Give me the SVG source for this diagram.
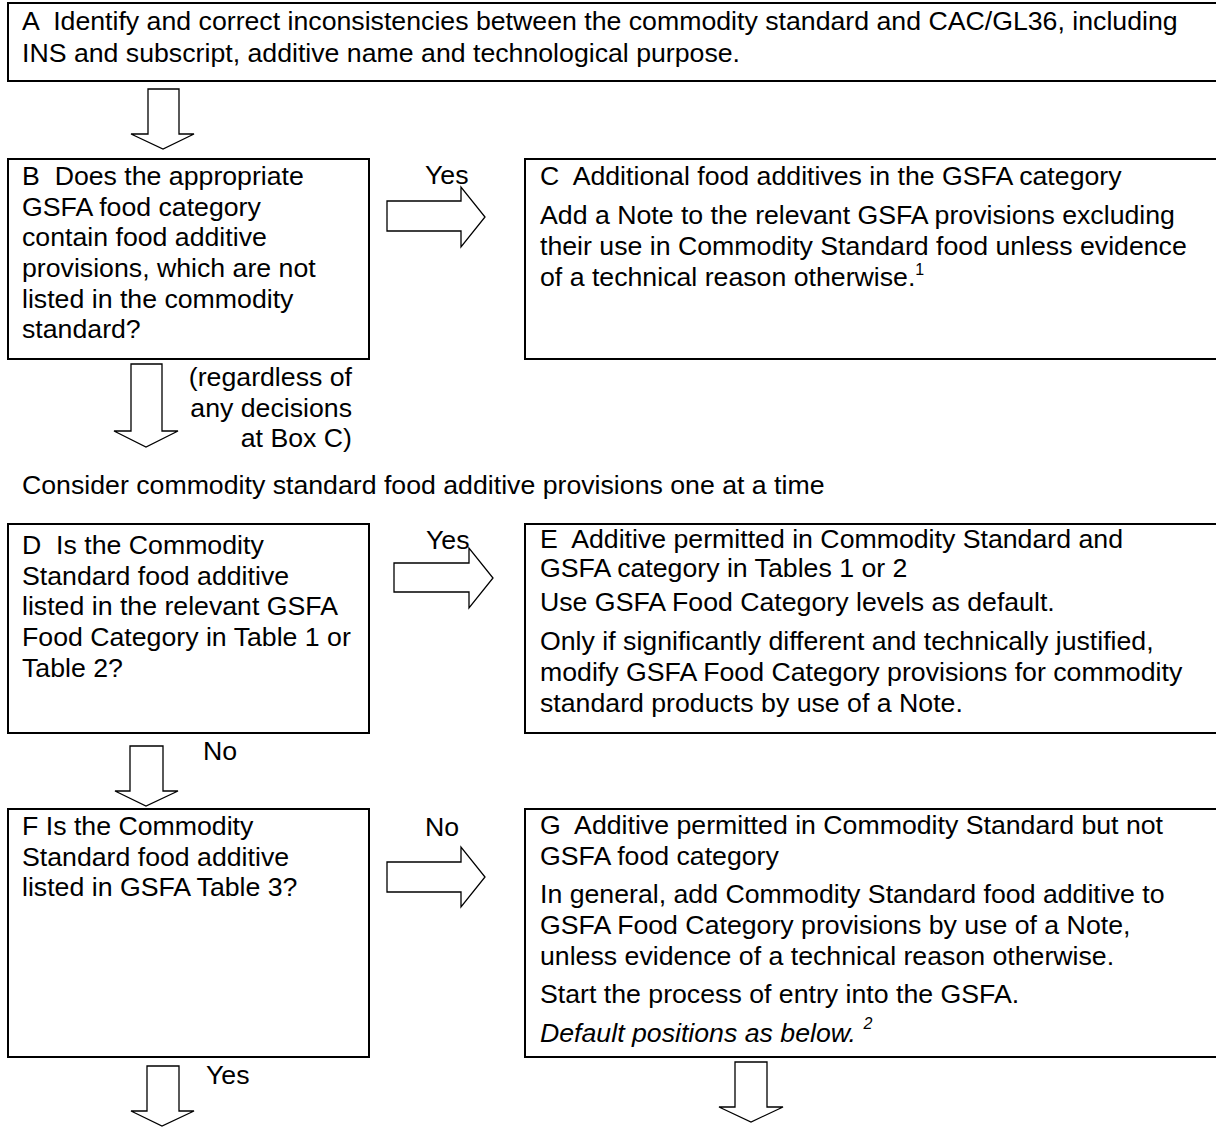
<svg xmlns="http://www.w3.org/2000/svg" width="1216" height="1131" viewBox="0 0 1216 1131">
<style>
text { font-family: "Liberation Sans", Arial, sans-serif; font-size: 26.7px; fill: #000; white-space: pre; }
.box { fill: #fff; stroke: #000; stroke-width: 2; }
.arr { fill: #fff; stroke: #000; stroke-width: 1.3; stroke-linejoin: miter; }
.sup { font-size: 16px; }
.it { font-style: italic; }
</style>
<rect width="1216" height="1131" fill="#fff"/>
<g id="nodeA">
<rect class="box" x="8" y="3" width="1230" height="78"/>
<text x="22" y="30">A  Identify and correct inconsistencies between the commodity standard and CAC/GL36, including</text>
<text x="22" y="62">INS and subscript, additive name and technological purpose.</text>
</g>
<g id="nodeB">
<rect class="box" x="8" y="159" width="361" height="200"/>
<text x="22" y="185">B  Does the appropriate</text>
<text x="22" y="216">GSFA food category</text>
<text x="22" y="246">contain food additive</text>
<text x="22" y="277">provisions, which are not</text>
<text x="22" y="308">listed in the commodity</text>
<text x="22" y="338">standard?</text>
</g>
<g id="nodeC">
<rect class="box" x="525" y="159" width="720" height="200"/>
<text x="540" y="185">C  Additional food additives in the GSFA category</text>
<text x="540" y="224">Add a Note to the relevant GSFA provisions excluding</text>
<text x="540" y="255">their use in Commodity Standard food unless evidence</text>
<text x="540" y="286">of a technical reason otherwise.<tspan class="sup" dy="-11">1</tspan></text>
</g>
<g id="noteConsider">
<text x="22" y="494">Consider commodity standard food additive provisions one at a time</text>
</g>
<g id="nodeD">
<rect class="box" x="8" y="524" width="361" height="209"/>
<text x="22" y="554">D  Is the Commodity</text>
<text x="22" y="585">Standard food additive</text>
<text x="22" y="615">listed in the relevant GSFA</text>
<text x="22" y="646">Food Category in Table 1 or</text>
<text x="22" y="677">Table 2?</text>
</g>
<g id="nodeE">
<rect class="box" x="525" y="524" width="720" height="209"/>
<text x="540" y="548">E  Additive permitted in Commodity Standard and</text>
<text x="540" y="577">GSFA category in Tables 1 or 2</text>
<text x="540" y="611">Use GSFA Food Category levels as default.</text>
<text x="540" y="650">Only if significantly different and technically justified,</text>
<text x="540" y="681">modify GSFA Food Category provisions for commodity</text>
<text x="540" y="712">standard products by use of a Note.</text>
</g>
<g id="nodeF">
<rect class="box" x="8" y="809" width="361" height="248"/>
<text x="22" y="835">F Is the Commodity</text>
<text x="22" y="866">Standard food additive</text>
<text x="22" y="896">listed in GSFA Table 3?</text>
</g>
<g id="nodeG">
<rect class="box" x="525" y="809" width="720" height="248"/>
<text x="540" y="834">G  Additive permitted in Commodity Standard but not</text>
<text x="540" y="865">GSFA food category</text>
<text x="540" y="903">In general, add Commodity Standard food additive to</text>
<text x="540" y="934">GSFA Food Category provisions by use of a Note,</text>
<text x="540" y="965">unless evidence of a technical reason otherwise.</text>
<text x="540" y="1003">Start the process of entry into the GSFA.</text>
<text x="540" y="1042" class="it">Default positions as below. <tspan class="sup" dy="-13">2</tspan></text>
</g>
<g id="connectors">
<polygon class="arr" points="148,89 179,89 179,134 194,134 163,149 131,134 148,134"/>
<polygon class="arr" points="387,201 461,201 461,187 485,217 461,247 461,231 387,231"/>
<polygon class="arr" points="131,364 162,364 162,431 178,431 146,447 114,431 131,431"/>
<polygon class="arr" points="394,563 469,563 469,548 493,578 469,608 469,592 394,592"/>
<polygon class="arr" points="130,746 163,746 163,791 178,791 146,806 115,791 130,791"/>
<polygon class="arr" points="387,862 461,862 461,847 485,877 461,907 461,892 387,892"/>
<polygon class="arr" points="147,1066 179,1066 179,1111 194,1111 162,1126 131,1111 147,1111"/>
<polygon class="arr" points="735,1062 767,1062 767,1107 783,1107 751,1122 719,1107 735,1107"/>
<text x="425" y="184">Yes</text>
<text x="352" y="386" text-anchor="end">(regardless of</text>
<text x="352" y="417" text-anchor="end">any decisions</text>
<text x="352" y="447" text-anchor="end">at Box C)</text>
<text x="426" y="549">Yes</text>
<text x="203" y="760">No</text>
<text x="425" y="836">No</text>
<text x="206" y="1084">Yes</text>
</g>
</svg>
